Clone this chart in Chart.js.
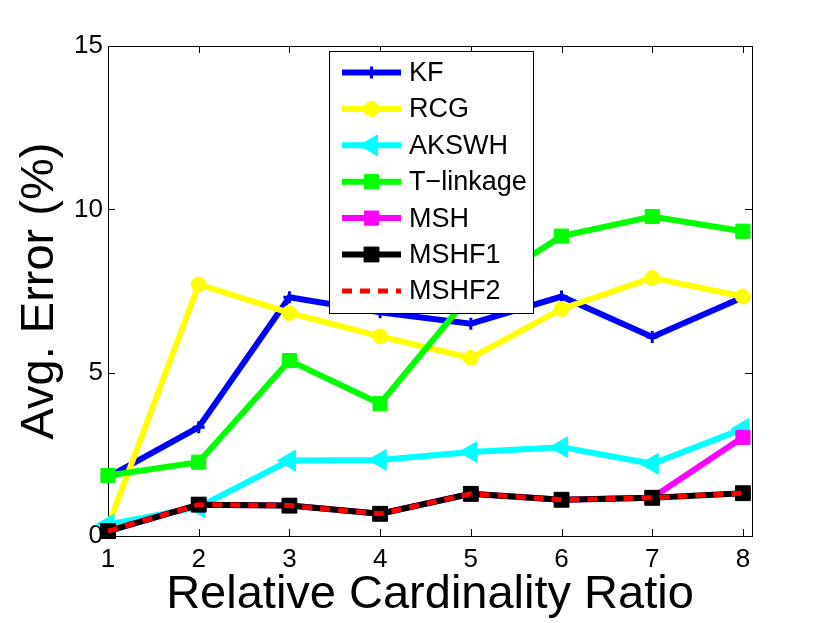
<!DOCTYPE html>
<html>
<head>
<meta charset="utf-8">
<title>Avg. Error vs Relative Cardinality Ratio</title>
<script src="https://cdn.jsdelivr.net/npm/chart.js@4.4.1/dist/chart.umd.min.js"></script>
<style>
  html, body { margin: 0; padding: 0; background: #fff; }
  #wrap { width: 830px; height: 623px; }
</style>
</head>
<body>
<div id="wrap"><canvas id="chart" width="830" height="623"></canvas></div>
<script>
// values
const ratios = [1, 2, 3, 4, 5, 6, 7, 8];
const xTicks = [1, 2, 3, 4, 5, 6, 7, 8];
const yTicks = [0, 5, 10, 15];

const kf       = [1.80, 3.33, 7.31, 6.85, 6.50, 7.33, 6.09, 7.31];
const rcg      = [0.30, 7.70, 6.83, 6.11, 5.45, 6.95, 7.90, 7.33];
const akswh    = [0.35, 0.88, 2.31, 2.33, 2.57, 2.72, 2.21, 3.28];
const tlinkage = [1.85, 2.26, 5.37, 4.05, 7.40, 9.18, 9.78, 9.33];
const msh      = [0.15, 0.96, 0.93, 0.68, 1.29, 1.11, 1.17, 3.02];
const mshf1    = [0.15, 0.96, 0.93, 0.68, 1.29, 1.11, 1.17, 1.31];
const mshf2    = [0.15, 0.96, 0.93, 0.68, 1.29, 1.11, 1.17, 1.31];

const FONT = "'Liberation Sans', Arial, Helvetica, sans-serif";

function series(label, values, color, style, radius, order, extra) {
  return Object.assign({
    label: label,
    data: ratios.map((x, i) => ({ x: x, y: values[i] })),
    borderColor: color,
    backgroundColor: color,
    borderWidth: 6,
    pointStyle: style,
    pointRadius: radius,
    pointBorderColor: color,
    pointBackgroundColor: color,
    pointBorderWidth: 1,
    tension: 0,
    clip: false,
    order: order
  }, extra || {});
}

const datasets = [
  series('KF', kf, '#0000ff', 'cross', 6, 6, { pointBorderWidth: 3 }),
  series('RCG', rcg, '#ffff00', 'circle', 7.5, 5),
  series('AKSWH', akswh, '#00ffff', 'triangle', 12, 4, { pointRotation: -90 }),
  series('T\u2212linkage', tlinkage, '#00ff00', 'rect', 10, 3),
  series('MSH', msh, '#ff00ff', 'rect', 10, 2),
  series('MSHF1', mshf1, '#000000', 'rect', 10.5, 1),
  series('MSHF2', mshf2, '#ff0000', 'circle', 0, 0, { borderWidth: 5, borderDash: [10, 8] })
];

// box with inward ticks on all four sides, drawn under the data
const axesBox = {
  id: 'axesBox',
  beforeDatasetsDraw(chart) {
    const { ctx, chartArea: a, scales } = chart;
    const tl = 7;
    ctx.save();
    ctx.strokeStyle = '#000';
    ctx.lineWidth = 1;
    ctx.strokeRect(a.left + 0.5, a.top + 0.5, a.right - a.left, a.bottom - a.top);
    ctx.beginPath();
    xTicks.forEach(v => {
      const px = Math.round(scales.x.getPixelForValue(v)) + 0.5;
      ctx.moveTo(px, a.bottom); ctx.lineTo(px, a.bottom - tl);
      ctx.moveTo(px, a.top); ctx.lineTo(px, a.top + tl);
    });
    yTicks.forEach(v => {
      const py = Math.round(scales.y.getPixelForValue(v)) + 0.5;
      ctx.moveTo(a.left, py); ctx.lineTo(a.left + tl, py);
      ctx.moveTo(a.right, py); ctx.lineTo(a.right - tl, py);
    });
    ctx.stroke();
    ctx.restore();
  }
};

// MATLAB style legend: line sample with marker, boxed
const boxLegend = {
  id: 'boxLegend',
  afterDatasetsDraw(chart) {
    const ctx = chart.ctx;
    const bx = 329, by = 51, bw = 204, bh = 262;
    const rowTop = 72.5, rowStep = 36.4;
    const lineX0 = 342, lineX1 = 401, textX = 409;
    ctx.save();
    ctx.fillStyle = '#fff';
    ctx.fillRect(bx, by, bw, bh);
    ctx.strokeStyle = '#000';
    ctx.lineWidth = 1;
    ctx.strokeRect(bx + 0.5, by + 0.5, bw, bh);
    chart.data.datasets.forEach((ds, i) => {
      const y = rowTop + i * rowStep;
      ctx.save();
      ctx.strokeStyle = ds.borderColor;
      ctx.lineWidth = ds.borderWidth;
      ctx.setLineDash(ds.borderDash || []);
      ctx.beginPath();
      ctx.moveTo(lineX0, y);
      ctx.lineTo(lineX1, y);
      ctx.stroke();
      ctx.restore();
      if (ds.pointRadius > 0) {
        ctx.save();
        ctx.strokeStyle = ds.pointBorderColor;
        ctx.fillStyle = ds.pointBackgroundColor;
        ctx.lineWidth = ds.pointBorderWidth;
        Chart.helpers.drawPoint(ctx, {
          pointStyle: ds.pointStyle,
          radius: ds.pointRadius,
          rotation: ds.pointRotation || 0,
          borderWidth: ds.pointBorderWidth
        }, (lineX0 + lineX1) / 2, y);
        ctx.restore();
      }
      ctx.fillStyle = '#000';
      ctx.font = '27px ' + FONT;
      ctx.textAlign = 'left';
      ctx.textBaseline = 'middle';
      ctx.fillText(ds.label, textX, y + 1);
    });
    ctx.restore();
  }
};

new Chart(document.getElementById('chart'), {
  type: 'line',
  data: { datasets: datasets },
  options: {
    responsive: false,
    animation: false,
    events: [],
    layout: { padding: { top: 46, right: 78, left: 0, bottom: 0 } },
    plugins: { legend: { display: false }, tooltip: { enabled: false } },
    scales: {
      x: {
        type: 'linear',
        min: 1,
        max: 8.1,
        afterBuildTicks: s => { s.ticks = xTicks.map(v => ({ value: v })); },
        afterFit: s => { s.height = 87; },
        grid: { display: false, drawTicks: false },
        border: { display: false },
        ticks: { color: '#000', font: { family: FONT, size: 26 }, padding: 8, maxRotation: 0, autoSkip: false },
        title: { display: true, text: 'Relative Cardinality Ratio', color: '#000',
                 font: { family: FONT, size: 47 }, padding: 0 }
      },
      y: {
        type: 'linear',
        min: 0,
        max: 15,
        afterBuildTicks: s => { s.ticks = yTicks.map(v => ({ value: v })); },
        afterFit: s => { s.width = 108; },
        grid: { display: false, drawTicks: false },
        border: { display: false },
        ticks: { color: '#000', font: { family: FONT, size: 26 }, padding: 5 },
        title: { display: true, text: 'Avg. Error (%)', color: '#000',
                 font: { family: FONT, size: 47 }, padding: { top: 12, bottom: 0 } }
      }
    }
  },
  plugins: [axesBox, boxLegend]
});
</script>
</body>
</html>
